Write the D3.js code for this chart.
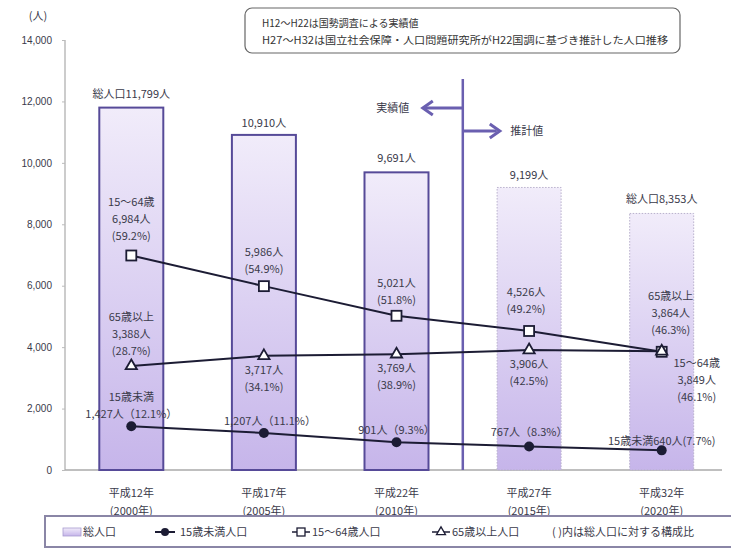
<!DOCTYPE html>
<html>
<head>
<meta charset="utf-8">
<script src="https://cdn.jsdelivr.net/npm/d3@7"></script>
<style>
  body { margin: 0; background: #fff; }
  svg { font-family: "Noto Sans CJK JP", sans-serif; }
</style>
</head>
<body>
<script>
const years = ["平成12年", "平成17年", "平成22年", "平成27年", "平成32年"];
const yearsAD = ["(2000年)", "(2005年)", "(2010年)", "(2015年)", "(2020年)"];
const total = [11799, 10910, 9691, 9199, 8353];
const under15 = [1427, 1207, 901, 767, 640];
const working = [6984, 5986, 5021, 4526, 3849];
const elderly = [3388, 3717, 3769, 3906, 3864];
const estimated = [false, false, false, true, true];
const yTicks = [0, 2000, 4000, 6000, 8000, 10000, 12000, 14000];

const totalLabels = [["総人口11,799人"], ["10,910人"], ["9,691人"], ["9,199人"], ["総人口8,353人"]];
const workingLabels = [
  ["15～64歳", "6,984人", "(59.2%)"],
  ["5,986人", "(54.9%)"],
  ["5,021人", "(51.8%)"],
  ["4,526人", "(49.2%)"],
  ["15～64歳", "3,849人", "(46.1%)"]
];
const elderlyLabels = [
  ["65歳以上", "3,388人", "(28.7%)"],
  ["3,717人", "(34.1%)"],
  ["3,769人", "(38.9%)"],
  ["3,906人", "(42.5%)"],
  ["65歳以上", "3,864人", "(46.3%)"]
];
const under15Labels = [
  ["15歳未満", "1,427人（12.1%）"],
  ["1,207人（11.1%）"],
  ["901人（9.3%）"],
  ["767人（8.3%）"],
  ["15歳未満640人(7.7%)"]
];

const w = 731, h = 549;
const barW = 64;
const ink = "#1c1c34";
const txt = "#3a3a4a";
const lh = 17;

const svg = d3.select("body").append("svg").attr("width", w).attr("height", h);

const defs = svg.append("defs");
const grad = defs.append("linearGradient").attr("id", "barfill")
  .attr("x1", 0).attr("y1", 0).attr("x2", 0).attr("y2", 1);
grad.append("stop").attr("offset", "0%").attr("stop-color", "#f1ecfa");
grad.append("stop").attr("offset", "100%").attr("stop-color", "#c6b5ea");

const x = d3.scalePoint().domain(d3.range(years.length)).range([65, 728]).padding(0.5);
const y = d3.scaleLinear().domain([0, 14000]).range([470, 40]);

// axes
svg.append("line").attr("x1", 65).attr("x2", 65).attr("y1", y(14000)).attr("y2", y(0))
  .attr("stroke", "#999").attr("stroke-width", 1);
svg.append("line").attr("x1", 65).attr("x2", 722).attr("y1", y(0)).attr("y2", y(0))
  .attr("stroke", "#aaa").attr("stroke-width", 1.5);

const yAxis = svg.append("g").attr("transform", "translate(65,0)")
  .call(d3.axisLeft(y).tickValues(yTicks).tickFormat(d3.format(",")).tickSize(3).tickPadding(10));
yAxis.select(".domain").remove();
yAxis.selectAll(".tick line").attr("stroke", "#bbb");
yAxis.selectAll("text").attr("font-size", 10).attr("fill", txt);

svg.append("text").attr("x", 38).attr("y", 20).attr("text-anchor", "middle")
  .attr("font-size", 11).attr("fill", txt).text("(人)");

// x labels
const xl = svg.append("g");
years.forEach((d, i) => {
  xl.append("text").attr("x", x(i)).attr("y", 497).attr("text-anchor", "middle")
    .attr("font-size", 11).attr("fill", txt).text(d);
  xl.append("text").attr("x", x(i)).attr("y", 515).attr("text-anchor", "middle")
    .attr("font-size", 11).attr("fill", txt).text(yearsAD[i]);
});

// bars
svg.selectAll("rect.bar")
  .data(total)
  .join("rect")
  .attr("class", "bar")
  .attr("x", (d, i) => x(i) - barW / 2)
  .attr("y", (d) => y(d))
  .attr("width", barW)
  .attr("height", (d) => y(0) - y(d))
  .attr("fill", "url(#barfill)")
  .attr("stroke", (d, i) => estimated[i] ? "#b8b0cc" : "#564a98")
  .attr("stroke-width", (d, i) => estimated[i] ? 1 : 2)
  .attr("stroke-dasharray", (d, i) => estimated[i] ? "1.5,1.5" : null);

// divider & arrows
const divX = (x(2) + x(3)) / 2;
const purple = "#6a5fb0";
svg.append("line").attr("x1", divX).attr("x2", divX).attr("y1", 79).attr("y2", y(0))
  .attr("stroke", purple).attr("stroke-width", 2.5);
svg.append("line").attr("x1", divX).attr("x2", divX - 38).attr("y1", 108).attr("y2", 108)
  .attr("stroke", purple).attr("stroke-width", 3);
svg.append("path").attr("d", `M${divX - 30},101 L${divX - 40},108 L${divX - 30},115`)
  .attr("fill", "none").attr("stroke", purple).attr("stroke-width", 3);
svg.append("line").attr("x1", divX).attr("x2", divX + 34).attr("y1", 131).attr("y2", 131)
  .attr("stroke", purple).attr("stroke-width", 3);
svg.append("path").attr("d", `M${divX + 27},124 L${divX + 37},131 L${divX + 27},138`)
  .attr("fill", "none").attr("stroke", purple).attr("stroke-width", 3);
svg.append("text").attr("x", divX - 70).attr("y", 112).attr("text-anchor", "middle")
  .attr("font-size", 11).attr("fill", txt).text("実績値");
svg.append("text").attr("x", divX + 64).attr("y", 135).attr("text-anchor", "middle")
  .attr("font-size", 11).attr("fill", txt).text("推計値");

// note box
svg.append("rect").attr("x", 245).attr("y", 8).attr("width", 435).attr("height", 45)
  .attr("rx", 7).attr("fill", "#fff").attr("stroke", "#666").attr("stroke-width", 1.2);
svg.append("text").attr("x", 262).attr("y", 27).attr("font-size", 10).attr("fill", "#333")
  .text("H12～H22は国勢調査による実績値");
svg.append("text").attr("x", 262).attr("y", 44).attr("font-size", 10).attr("fill", "#333")
  .attr("textLength", 406).attr("lengthAdjust", "spacingAndGlyphs")
  .text("H27～H32は国立社会保障・人口問題研究所がH22国調に基づき推計した人口推移");

// lines
const line = d3.line().x((d, i) => x(i)).y((d) => y(d));
[under15, working, elderly].forEach((s) => {
  svg.append("path").datum(s).attr("d", line).attr("fill", "none")
    .attr("stroke", ink).attr("stroke-width", 2);
});

// markers
svg.selectAll("circle.u15").data(under15).join("circle").attr("class", "u15")
  .attr("cx", (d, i) => x(i)).attr("cy", (d) => y(d)).attr("r", 5).attr("fill", ink);
svg.selectAll("rect.wk").data(working).join("rect").attr("class", "wk")
  .attr("x", (d, i) => x(i) - 5).attr("y", (d) => y(d) - 5).attr("width", 10).attr("height", 10)
  .attr("fill", "#fff").attr("stroke", ink).attr("stroke-width", 1.8);
const tri = d3.symbol().type(d3.symbolTriangle).size(55);
svg.selectAll("path.el").data(elderly).join("path").attr("class", "el")
  .attr("transform", (d, i) => `translate(${x(i)},${y(d)})`).attr("d", tri)
  .attr("fill", "#fff").attr("stroke", ink).attr("stroke-width", 1.8);

// labels: first baseline placed relative to the mark it describes
function block(lines, cx, firstBaseline) {
  const t = svg.append("text").attr("text-anchor", "middle").attr("font-size", 11).attr("fill", txt);
  lines.forEach((l, k) => {
    t.append("tspan").attr("x", cx).attr("y", firstBaseline + k * lh).text(l);
  });
}
const totalOff = [-10, -8, -10, -8, -10];
totalLabels.forEach((l, i) => block(l, x(i), y(total[i]) + totalOff[i]));

const wkOff = [-49, -30, -29, -35];
[0, 1, 2, 3].forEach((i) =>
  block(workingLabels[i], x(i) + (i === 3 ? -3 : 0), y(working[i]) + wkOff[i]));
block(workingLabels[4], x(4) + 35, y(working[4]) + 15);

block(elderlyLabels[0], x(0), y(elderly[0]) - 45);
[1, 2, 3].forEach((i) => block(elderlyLabels[i], x(i), y(elderly[i]) + 18));
block(elderlyLabels[4], x(4) + 9, y(elderly[4]) - 51);

const u15Off = [-25, -8, -8, -10, -5];
under15Labels.forEach((l, i) =>
  block(l, x(i) + (i === 1 ? 6 : 0), y(under15[i]) + u15Off[i]));

// legend
const lg = svg.append("g");
lg.append("rect").attr("x", 45).attr("y", 516).attr("width", 700).attr("height", 31)
  .attr("fill", "#fff").attr("stroke", "#8a86a6").attr("stroke-width", 2);
const ly = 532;
lg.append("rect").attr("x", 63).attr("y", ly - 4).attr("width", 18).attr("height", 8)
  .attr("fill", "url(#barfill)").attr("stroke", "#a89cd0").attr("stroke-width", 0.8);
lg.append("text").attr("x", 83).attr("y", ly + 4).attr("font-size", 11).attr("fill", txt).text("総人口");

lg.append("line").attr("x1", 155).attr("x2", 175).attr("y1", ly).attr("y2", ly).attr("stroke", ink).attr("stroke-width", 2);
lg.append("circle").attr("cx", 165).attr("cy", ly).attr("r", 4).attr("fill", ink);
lg.append("text").attr("x", 180).attr("y", ly + 4).attr("font-size", 11).attr("fill", txt).text("15歳未満人口");

lg.append("line").attr("x1", 292).attr("x2", 310).attr("y1", ly).attr("y2", ly).attr("stroke", ink).attr("stroke-width", 1.5);
lg.append("rect").attr("x", 297).attr("y", ly - 4).attr("width", 8).attr("height", 8)
  .attr("fill", "#fff").attr("stroke", ink).attr("stroke-width", 1.3);
lg.append("text").attr("x", 312).attr("y", ly + 4).attr("font-size", 11).attr("fill", txt).text("15～64歳人口");

lg.append("line").attr("x1", 432).attr("x2", 450).attr("y1", ly).attr("y2", ly).attr("stroke", ink).attr("stroke-width", 1.5);
lg.append("path").attr("transform", `translate(441,${ly})`).attr("d", d3.symbol().type(d3.symbolTriangle).size(35))
  .attr("fill", "#fff").attr("stroke", ink).attr("stroke-width", 1.3);
lg.append("text").attr("x", 452).attr("y", ly + 4).attr("font-size", 11).attr("fill", txt).text("65歳以上人口");

lg.append("text").attr("x", 552).attr("y", ly + 4).attr("font-size", 11).attr("fill", txt).text("(  )内は総人口に対する構成比");
</script>
</body>
</html>
